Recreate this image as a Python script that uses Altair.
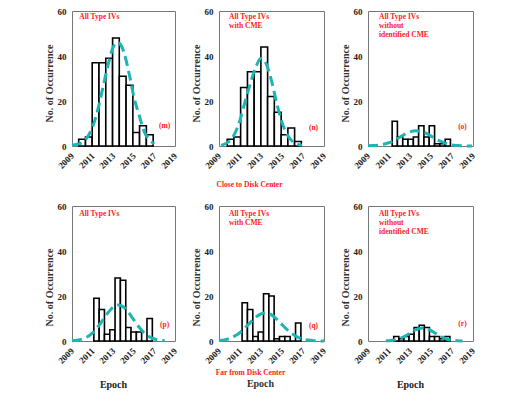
import altair as alt
import pandas as pd

SERIF = "Liberation Serif"
TEAL = "#1db4b4"
RED = "#ff1a1a"
INK = "#222222"

year_ticks = [2009, 2011, 2013, 2015, 2017, 2019]
count_ticks = [0, 20, 40, 60]

# ---- (m) all type IVs, close to disk center
m_edges = [2009.65, 2010.31, 2010.96, 2011.62, 2012.28, 2012.94, 2013.59, 2014.25, 2014.91, 2015.56, 2016.22, 2016.88]
m_counts = [3, 4, 37, 37, 39, 48, 31, 27, 6, 9, 5]
m_fit_x = [2009.0, 2009.5, 2010.0, 2010.5, 2011.0, 2011.5, 2012.0, 2012.5, 2013.0, 2013.4, 2013.8, 2014.2, 2014.6, 2015.0, 2015.5, 2016.0, 2016.5, 2017.0]
m_fit_y = [0.3, 0.8, 1.6, 4.0, 8.5, 16, 26, 36, 44, 46, 44.5, 39, 31, 22, 14, 6.5, 2.8, 1.0]

# ---- (n) with CME, close to disk center
n_edges = [2009.78, 2010.42, 2011.06, 2011.71, 2012.35, 2012.99, 2013.63, 2014.27, 2014.92, 2015.56, 2016.2, 2016.84]
n_counts = [3, 4, 26, 33, 33, 44, 22, 15, 5, 8, 2]
n_fit_x = [2009.2, 2009.6, 2010.0, 2010.5, 2011.0, 2011.5, 2012.0, 2012.5, 2013.0, 2013.5, 2014.0, 2014.5, 2015.0, 2015.5, 2016.0, 2016.5, 2016.9]
n_fit_y = [0.3, 1.0, 2.2, 5.5, 11.5, 20, 28, 35, 39, 36.5, 29, 19, 10.5, 5, 2, 0.7, 0.3]

# ---- (o) without identified CME, close to disk center
o_edges = [2011.3, 2011.8, 2012.31, 2012.81, 2013.32, 2013.82, 2014.33, 2014.83, 2015.34, 2015.84, 2016.35, 2016.85]
o_counts = [11, 4, 3, 3, 4, 9, 4, 9, 1, 1, 3]
o_fit_x = [2009.0, 2009.5, 2010.0, 2010.5, 2011.0, 2011.5, 2012.0, 2012.5, 2013.0, 2013.6, 2014.0, 2014.5, 2015.0, 2015.5, 2016.0, 2016.5, 2017.0, 2017.5, 2018.0, 2018.9]
o_fit_y = [0.1, 0.2, 0.4, 0.8, 1.5, 2.5, 3.8, 5.2, 6.3, 6.8, 6.5, 5.7, 4.4, 3.0, 1.9, 1.0, 0.5, 0.2, 0.1, 0.0]

# ---- (p) all type IVs, far from disk center
p_edges = [2011.12, 2011.64, 2012.15, 2012.67, 2013.18, 2013.7, 2014.22, 2014.73, 2015.25, 2015.76, 2016.28, 2016.8]
p_counts = [19, 14, 3, 5, 28, 27, 6, 4, 4, 0, 10]
p_fit_x = [2009.0, 2009.5, 2010.0, 2010.5, 2011.0, 2011.5, 2012.0, 2012.5, 2013.0, 2013.5, 2014.0, 2014.5, 2015.0, 2015.5, 2016.0, 2016.5, 2017.0, 2017.5, 2018.0]
p_fit_y = [0.1, 0.35, 0.9, 1.9, 3.6, 6.2, 9.4, 12.6, 15.1, 16.0, 15.1, 12.6, 9.4, 6.2, 3.6, 1.9, 0.9, 0.35, 0.1]

# ---- (q) with CME, far from disk center
q_edges = [2011.2, 2011.71, 2012.22, 2012.73, 2013.24, 2013.75, 2014.25, 2014.76, 2015.27, 2015.78, 2016.29, 2016.8]
q_counts = [17, 14, 2, 4, 21, 20, 1, 2, 2, 0, 8]
q_fit_x = [2009.0, 2009.5, 2010.0, 2010.5, 2011.0, 2011.5, 2012.0, 2012.5, 2013.0, 2013.4, 2014.0, 2014.5, 2015.0, 2015.5, 2016.0, 2016.5, 2017.0, 2017.5, 2018.0, 2018.5, 2019.0]
q_fit_y = [0.2, 0.5, 1.1, 2.2, 3.8, 5.9, 8.3, 10.6, 12.1, 12.5, 11.6, 9.7, 7.3, 5.0, 3.1, 1.7, 0.8, 0.4, 0.15, 0.06, 0.02]

# ---- (r) without identified CME, far from disk center
r_edges = [2011.45, 2011.94, 2012.42, 2012.91, 2013.39, 2013.88, 2014.37, 2014.85, 2015.34, 2015.82, 2016.31, 2016.8]
r_counts = [2, 1, 2, 3, 6, 7, 6, 2, 2, 1, 2]
r_fit_x = [2010.7, 2011.0, 2011.5, 2012.0, 2012.5, 2013.0, 2013.5, 2014.2, 2014.5, 2015.0, 2015.5, 2016.0, 2016.5, 2017.0, 2017.5, 2018.0]
r_fit_y = [0.08, 0.16, 0.46, 1.1, 2.1, 3.5, 4.9, 5.8, 5.6, 4.6, 3.2, 1.9, 0.9, 0.4, 0.13, 0.04]

# ---- annotation texts
lines_all = ["All Type IVs"]
lines_cme = ["All Type IVs", "with CME"]
lines_nocme = ["All Type IVs", "without", "identified CME"]
row1_line_y = [57.4, 53.4, 49.5]
row2_line_y = [56.3, 52.3, 48.3]

W1, W2, H1, H2 = 103, 105, 135, 135


def panel(edges, counts, fx, fy, lines, line_y, text_x, tag, tag_y, width, height,
          xtitle=None, xtitle_color=INK, xtitle_size=10, xtitle_x=41, xtitle_y=43,
          ytitle_y=72, bottom_title=None):
    bars = pd.DataFrame({"x": edges[:-1], "x2": edges[1:], "y": counts, "y0": [0] * len(counts)})
    fit = pd.DataFrame({"x": fx, "y": fy})
    txt = pd.DataFrame({"x": [text_x] * len(lines), "y": line_y[:len(lines)], "t": lines})
    tg = pd.DataFrame({"x": [2018.0], "y": [tag_y], "t": [tag]})

    axis_kw = dict(values=year_ticks, format="d", labelAngle=315, labelAlign="right",
                   labelBaseline="middle", labelPadding=8, labelFont=SERIF, labelFontSize=9,
                   labelFontWeight="bold", labelColor=INK, ticks=False, grid=False, domain=False)
    if xtitle:
        axis_kw.update(title=xtitle, titleFont=SERIF, titleFontSize=xtitle_size, titleFontWeight="bold",
                       titleColor=xtitle_color, titleX=xtitle_x, titleY=xtitle_y,
                       titleAlign="center", titleBaseline="middle")
    else:
        axis_kw.update(title=None)
    X = alt.X("x:Q", scale=alt.Scale(domain=[2009, 2019], nice=False, zero=False),
              axis=alt.Axis(**axis_kw))
    Y = alt.Y("y:Q", scale=alt.Scale(domain=[0, 60], nice=False),
              axis=alt.Axis(values=count_ticks, title="No. of Occurrence", titleFont=SERIF,
                            titleFontSize=10, titleFontWeight="bold", titleColor="#333333",
                            titleAngle=270, titleX=-23, titleY=ytitle_y, titleAlign="center",
                            titleBaseline="middle", labelFont=SERIF, labelFontSize=9,
                            labelFontWeight="bold", labelColor=INK, labelPadding=6,
                            ticks=False, grid=False, domain=False))

    b = alt.Chart(bars).mark_rect(fill="white", stroke="black", strokeWidth=1.6).encode(
        x=X, x2="x2:Q", y=Y, y2="y0:Q")
    l = alt.Chart(fit).mark_line(color=TEAL, strokeWidth=3, strokeDash=[10, 5],
                                 interpolate="monotone").encode(x=X, y=Y)
    t = alt.Chart(txt).mark_text(align="left", baseline="middle", font=SERIF, fontSize=7.5,
                                 fontWeight="bold", color=RED).encode(x=X, y=Y, text="t:N")
    g = alt.Chart(tg).mark_text(align="center", baseline="middle", font=SERIF, fontSize=7.5,
                                fontWeight="bold", color=RED).encode(x=X, y=Y, text="t:N")
    ch = alt.layer(b, l, t, g).properties(width=width, height=height)
    if bottom_title:
        ch = ch.properties(title=alt.TitleParams(bottom_title, orient="bottom", font=SERIF,
                                                 fontSize=10, fontWeight="bold", color="#333333",
                                                 anchor="middle", frame="group", dx=-11, offset=3))
    return ch


pm = panel(m_edges, m_counts, m_fit_x, m_fit_y, lines_all, row1_line_y, 2009.7, "(m)", 8.8, W1, H1)
pn = panel(n_edges, n_counts, n_fit_x, n_fit_y, lines_cme, row1_line_y, 2009.95, "(n)", 8.2, W2, H1,
           xtitle="Close to Disk Center", xtitle_color=RED, xtitle_size=7.5, xtitle_x=30, xtitle_y=38)
po = panel(o_edges, o_counts, o_fit_x, o_fit_y, lines_nocme, row1_line_y, 2010.05, "(o)", 8.5, W2, H1)

pp = panel(p_edges, p_counts, p_fit_x, p_fit_y, lines_all, row2_line_y, 2009.7, "(p)", 7.2, W1, H2,
           xtitle="Epoch", ytitle_y=81)
pq = panel(q_edges, q_counts, q_fit_x, q_fit_y, lines_cme, row2_line_y, 2009.95, "(q)", 6.7, W2, H2,
           xtitle="Far from Disk Center", xtitle_color=RED, xtitle_size=7.5, xtitle_x=31, xtitle_y=31,
           ytitle_y=81, bottom_title="Epoch")
pr = panel(r_edges, r_counts, r_fit_x, r_fit_y, lines_nocme, row2_line_y, 2010.05, "(r)", 7.5, W2, H2,
           xtitle="Epoch", xtitle_x=42, ytitle_y=81)

chart = alt.concat(pm, pn, po, pp, pq, pr, columns=3, bounds="flush",
                   spacing=alt.RowColnumber(column=44, row=60)).properties(
    padding={"left": 35, "top": -2, "right": 0, "bottom": 0},
    background="white",
).configure_view(stroke="#777777", strokeWidth=1)

chart.save("out.html", embed_options={"renderer": "svg", "actions": False})
